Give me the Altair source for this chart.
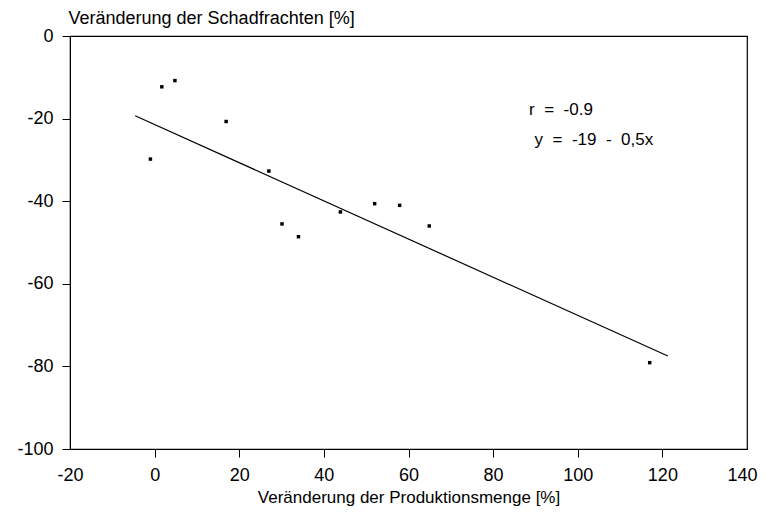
import altair as alt
import pandas as pd

# Scatter data (percent changes)
prod_change = [-1.0, 1.7, 4.8, 16.9, 27.0, 30.1, 34.0, 43.9, 52.0, 57.9, 64.9, 117.0]
load_change = [-29.8, -12.3, -10.8, -20.7, -32.7, -45.5, -48.6, -42.6, -40.6, -41.0, -46.0, -79.1]

# Regression line endpoints as drawn
line_x = [-4.6, 121.3]
line_y = [-19.3, -77.5]

# Annotations
NB = "\u00a0"
ann_text = ["r" + NB * 2 + "=" + NB * 2 + "-0.9", "y" + NB * 2 + "=" + NB * 2 + "-19" + NB * 2 + "-" + NB * 2 + "0,5x"]
ann_x = [88.5, 89.8]
ann_y = [-17.8, -25.3]

x_ticks = [-20, 0, 20, 40, 60, 80, 100, 120, 140]
y_ticks = [0, -20, -40, -60, -80, -100]

FONT = "Liberation Sans"

pts = pd.DataFrame({"x": prod_change, "y": load_change})
ln = pd.DataFrame({"x": line_x, "y": line_y})
ann = pd.DataFrame({"t": ann_text, "x": ann_x, "y": ann_y})

xs = alt.Scale(domain=[-20, 140], nice=False, zero=False)
ys = alt.Scale(domain=[-100, 0], nice=False, zero=False)

xaxis = alt.Axis(
    values=x_ticks, grid=False, tickSize=8, labelPadding=9, labelFontSize=18,
    labelFont=FONT, labelColor="black", domainColor="black", tickColor="black",
    labelFlush=False, labelOverlap=False, labelExpr="'' + datum.value",
    labelOffset={"condition": {"test": "datum.value == 140", "value": -5}, "value": 0},
    title="Veränderung der Produktionsmenge [%]", titleFont=FONT, titleFontSize=17,
    titleFontWeight="normal", titleColor="black", titleY=48, titleBaseline="middle",
    tickOpacity={"condition": {"test": "datum.value == -20 || datum.value == 140", "value": 0}, "value": 1},
)
yaxis = alt.Axis(
    values=y_ticks, grid=False, tickSize=8, labelPadding=9, labelFontSize=18,
    labelFont=FONT, labelColor="black", domainColor="black", tickColor="black",
    labelFlush=False, labelOverlap=False, labelExpr="'' + datum.value",
    title="Veränderung der Schadfrachten [%]", titleFont=FONT, titleFontSize=18,
    titleFontWeight="normal", titleColor="black", titleAngle=0, titleX=-2, titleY=-18,
    titleAlign="left", titleBaseline="middle",
)

points = alt.Chart(pts).mark_point(shape="square", filled=True, size=12, color="black", opacity=1).encode(
    x=alt.X("x:Q", scale=xs, axis=xaxis),
    y=alt.Y("y:Q", scale=ys, axis=yaxis),
)
line = alt.Chart(ln).mark_line(color="black", strokeWidth=1.2).encode(
    x=alt.X("x:Q", scale=xs), y=alt.Y("y:Q", scale=ys)
)
text = alt.Chart(ann).mark_text(align="left", baseline="middle", font=FONT, fontSize=17, color="black").encode(
    x=alt.X("x:Q", scale=xs), y=alt.Y("y:Q", scale=ys), text="t:N"
)

chart = alt.layer(line, points, text).properties(
    width=677, height=413,
    background="white",
    autosize=alt.AutoSizeParams(type="none"),
    padding={"left": 62, "top": 28, "right": 11, "bottom": 57},
).configure_view(stroke="black", strokeWidth=1.2, strokeOpacity=1)

chart.save("out.html", embed_options={"renderer": "svg", "actions": False})
